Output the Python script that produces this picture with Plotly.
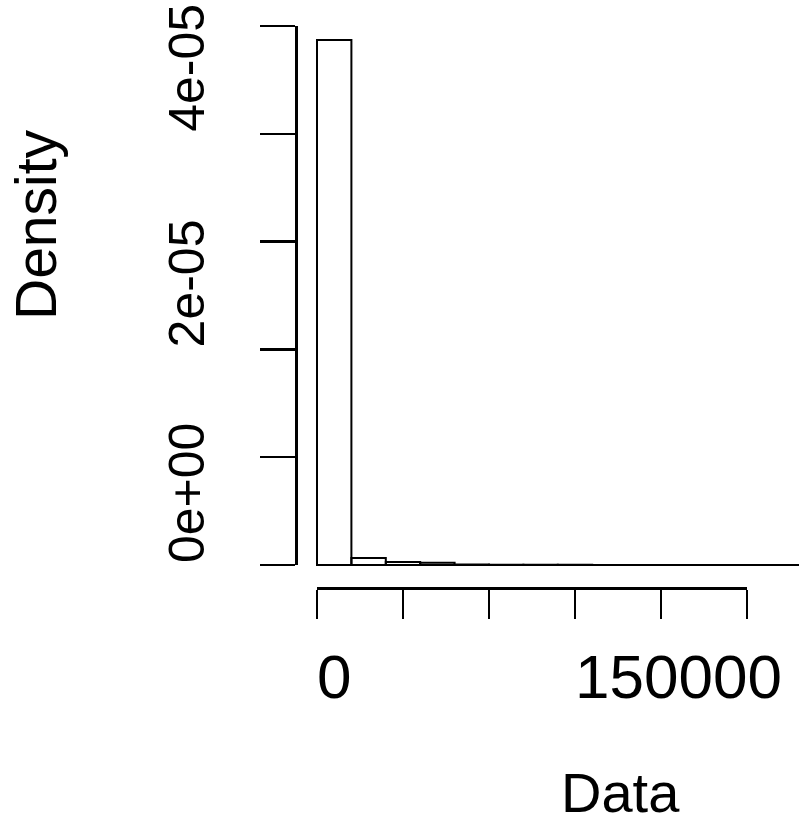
import plotly.graph_objects as go

# ---- data ----
bin_edges = [0, 20000, 40000, 60000, 80000, 100000, 120000, 140000, 160000,
             180000, 200000, 220000, 240000, 260000, 280000, 300000]
density = [4.87e-05, 6.5e-07, 2.8e-07, 2.0e-07, 4e-08, 3e-08, 2e-08, 2e-08,
           1e-08, 1e-08, 1e-08, 0.0, 1e-08, 0.0, 1e-08]

x_ticks = [0, 50000, 100000, 150000, 200000, 250000]
x_label_vals = [0, 150000]
x_label_text = ["0", "150000"]

y_ticks = [0, 1e-05, 2e-05, 3e-05, 4e-05, 5e-05]
y_label_vals = [0, 2e-05, 4e-05]
y_label_text = ["0e+00", "2e-05", "4e-05"]

x_title = "Data"
y_title = "Density"

# ---- layout helpers ----
OFF = 0                       # page margin removed via post_script below
W, H = 799 - 2 * OFF, 824 - 2 * OFF
FONT = "Liberation Sans, Arial, Helvetica, sans-serif"


def px_x(sx):
    """screen x pixel -> paper coordinate"""
    return (sx - OFF) / W


def px_y(sy):
    """screen y pixel -> paper coordinate"""
    return 1 - (sy - OFF) / H


# screen-pixel geometry of the reference
X0_PX, X250_PX = 317, 747      # x = 0 and x = 250000
Y0_PX, Y5_PX = 565, 26         # y = 0 and y = 5e-05
xscale = (x_ticks[-1] - x_ticks[0]) / (X250_PX - X0_PX)
yscale = (y_ticks[-1] - y_ticks[0]) / (Y0_PX - Y5_PX)

centers = [(a + b) / 2 for a, b in zip(bin_edges[:-1], bin_edges[1:])]
widths = [b - a for a, b in zip(bin_edges[:-1], bin_edges[1:])]

fig = go.Figure()
fig.add_trace(go.Bar(
    x=centers, y=density, width=widths,
    marker=dict(color="rgba(255,255,255,0)", line=dict(color="black", width=2)),
    showlegend=False, hoverinfo="x+y",
))
# helper (invisible) trace so the detached R-style axes are drawn
fig.add_trace(go.Scatter(
    x=[x_ticks[0]], y=[y_ticks[0]], xaxis="x2", yaxis="y2",
    mode="markers", marker=dict(opacity=0), showlegend=False, hoverinfo="skip",
))

bar_left_px, bar_right_px = 300, OFF + W
bar_top_px, bar_bot_px = 18, 572

axis_common = dict(showgrid=False, zeroline=False, fixedrange=True)

fig.update_layout(
    width=W, height=H,
    margin=dict(l=0, r=0, t=0, b=0),
    paper_bgcolor="white", plot_bgcolor="rgba(0,0,0,0)",
    bargap=0,
    xaxis=dict(domain=[px_x(bar_left_px), px_x(bar_right_px)],
               range=[(bar_left_px - X0_PX) * xscale, (bar_right_px - X0_PX) * xscale],
               visible=False, **axis_common),
    yaxis=dict(domain=[px_y(bar_bot_px), px_y(bar_top_px)],
               range=[(Y0_PX - bar_bot_px) * yscale, (Y0_PX - bar_top_px) * yscale],
               visible=False, **axis_common),
    xaxis2=dict(domain=[px_x(X0_PX), px_x(X250_PX)], range=[x_ticks[0], x_ticks[-1]],
                anchor="free", position=px_y(588),
                showline=True, linecolor="black", linewidth=2.5,
                ticks="outside", ticklen=29, tickwidth=2.5, tickcolor="black",
                tickvals=x_ticks, showticklabels=False, **axis_common),
    yaxis2=dict(domain=[px_y(Y0_PX), px_y(Y5_PX)], range=[y_ticks[0], y_ticks[-1]],
                anchor="free", position=px_x(296),
                showline=True, linecolor="black", linewidth=2.5,
                ticks="outside", ticklen=35, tickwidth=2.5, tickcolor="black",
                tickvals=y_ticks, showticklabels=False, **axis_common),
)

annotations = []
for v, t in zip(x_label_vals, x_label_text):
    annotations.append(dict(
        x=v, xref="x2", y=px_y(676), yref="paper", text=t, showarrow=False,
        xanchor="left", yanchor="middle", xshift=-2,
        font=dict(family=FONT, size=62, color="black")))
for v, t in zip(y_label_vals, y_label_text):
    annotations.append(dict(
        x=px_x(187), xref="paper", y=v, yref="y2", text=t, showarrow=False,
        textangle=-90, xanchor="center", yanchor="bottom",
        font=dict(family=FONT, size=50, color="black")))
annotations.append(dict(
    x=px_x(620), xref="paper", y=px_y(792), yref="paper", text=x_title,
    showarrow=False, xanchor="center", yanchor="middle",
    font=dict(family=FONT, size=56, color="black")))
annotations.append(dict(
    x=px_x(36), xref="paper", y=px_y(225), yref="paper", text=y_title,
    showarrow=False, textangle=-90, xanchor="center", yanchor="middle",
    font=dict(family=FONT, size=57, color="black")))
fig.update_layout(annotations=annotations)

fig.write_html("out.html",
               config={"displayModeBar": False, "staticPlot": True},
               post_script="document.body.style.margin='0';"
                           "document.body.style.overflow='hidden';")
